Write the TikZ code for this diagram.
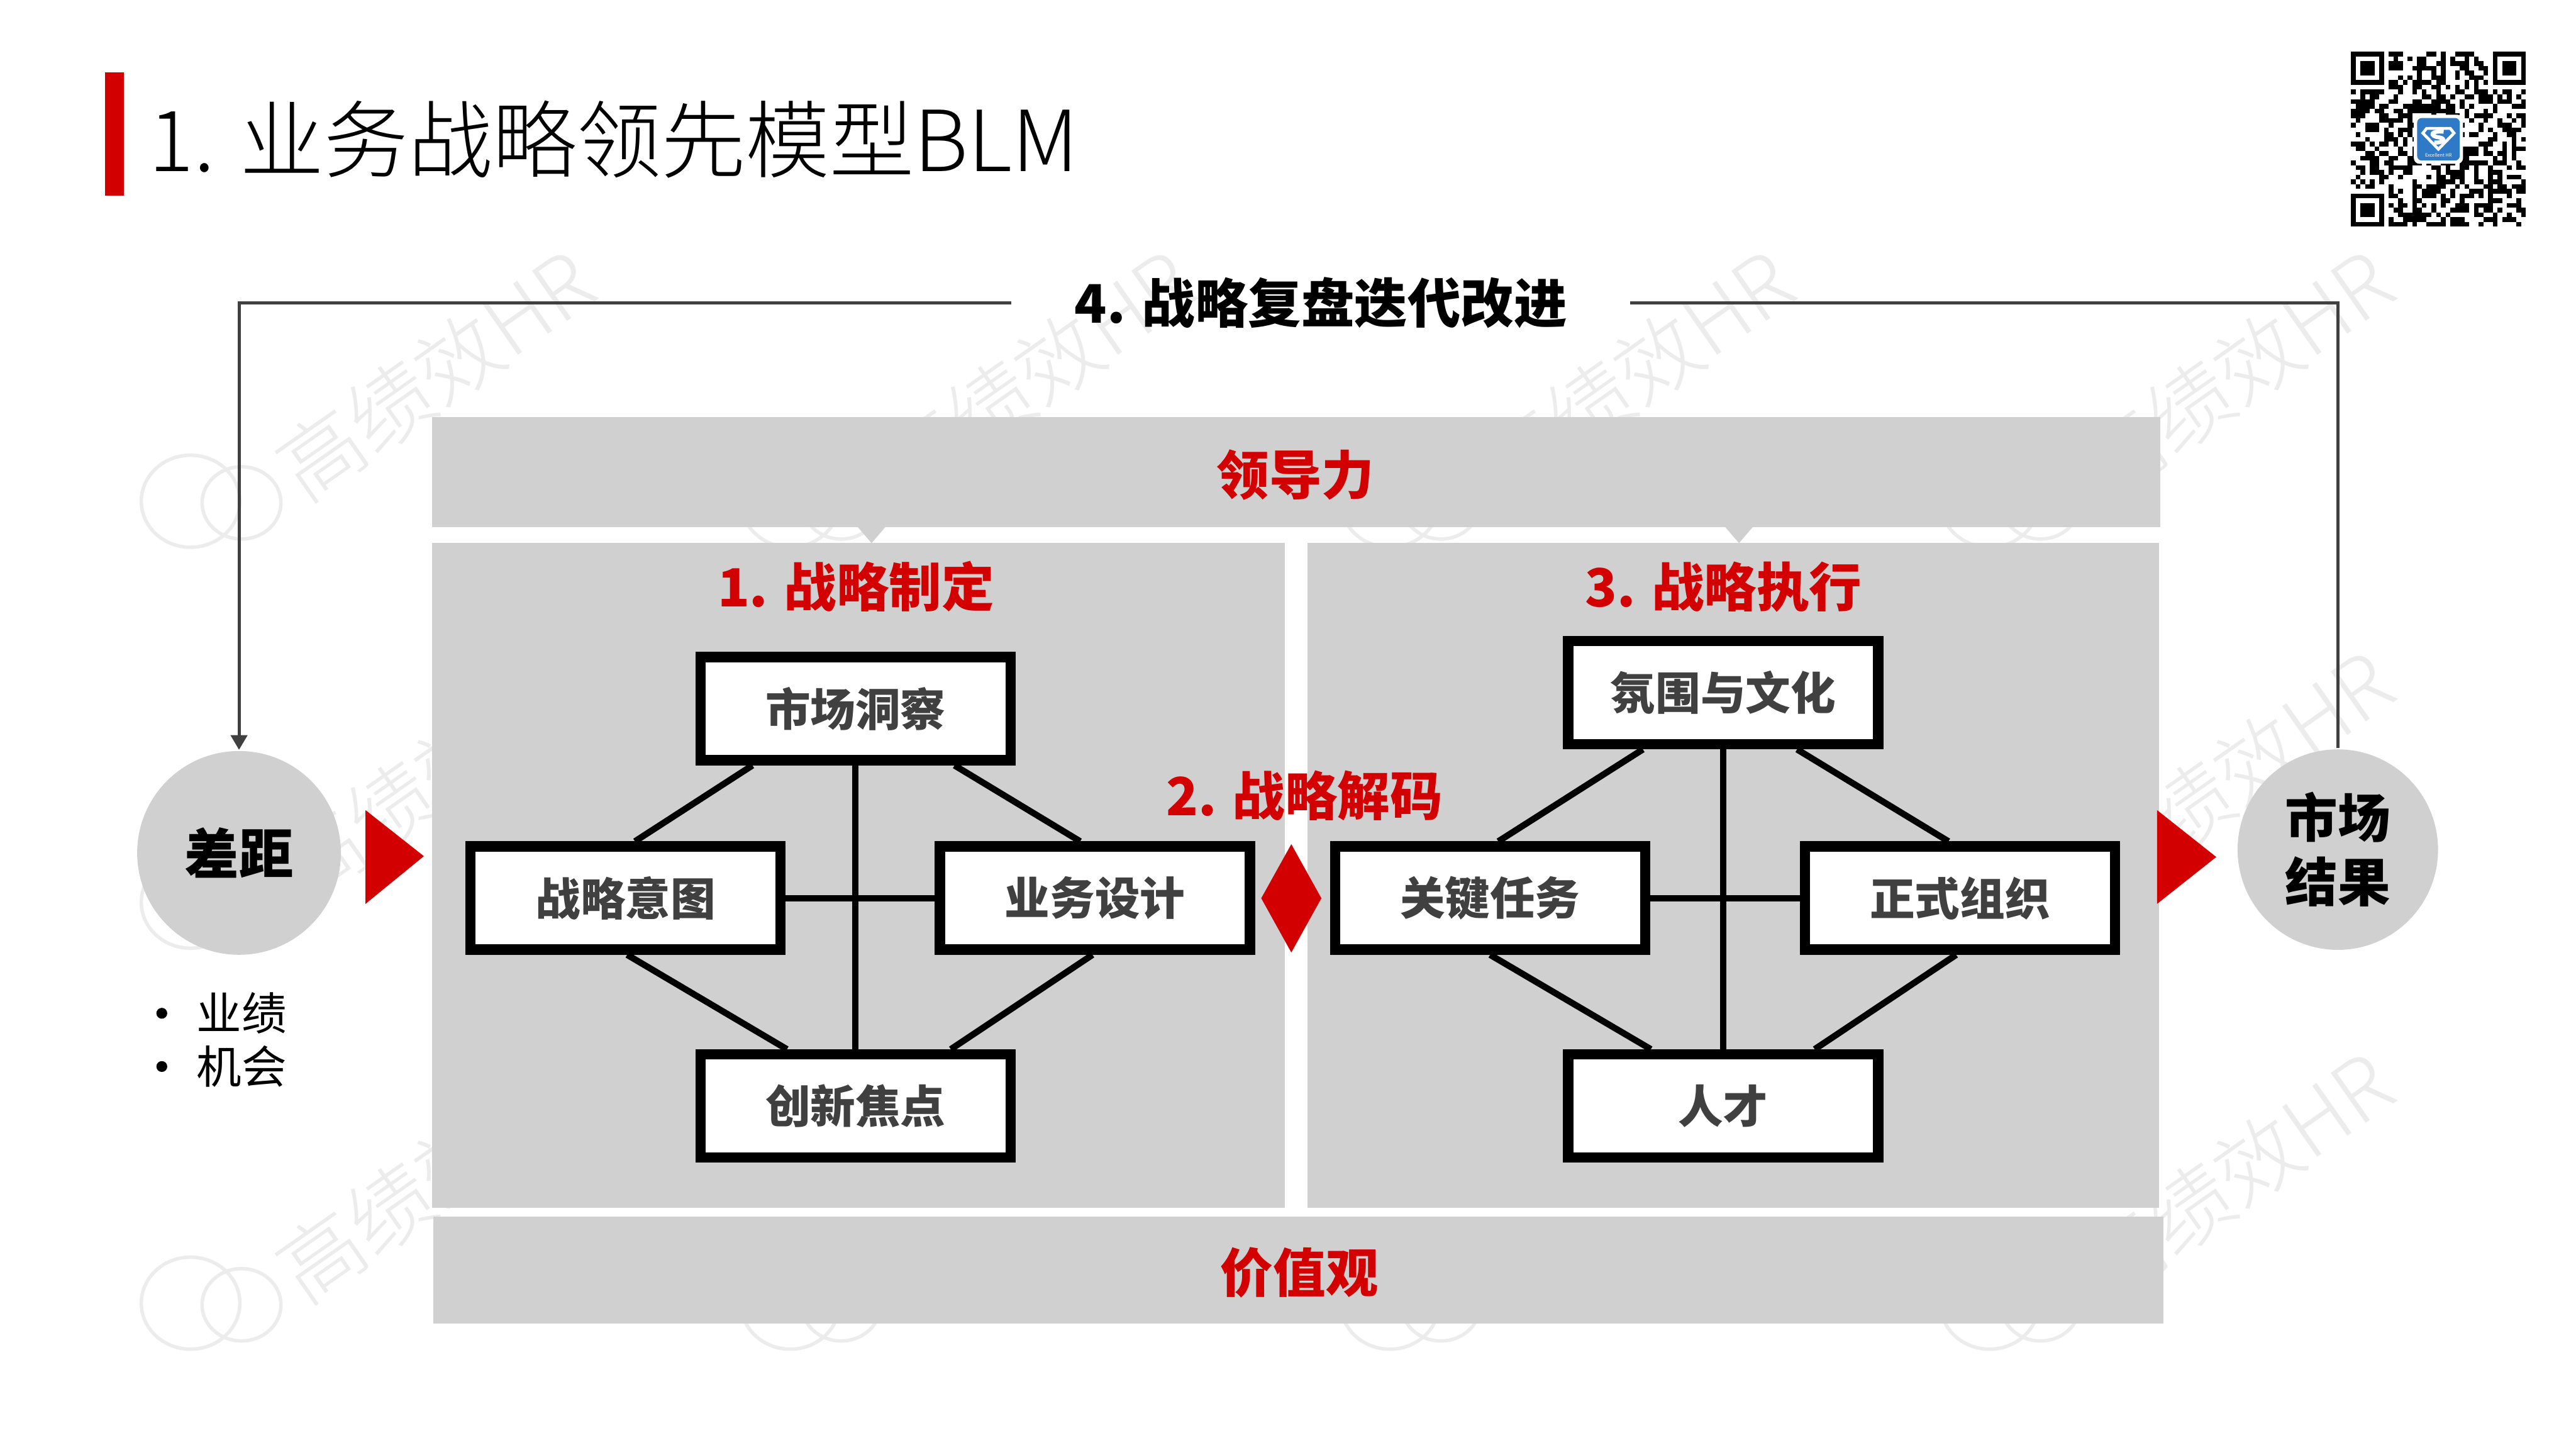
\documentclass[tikz,border=0pt]{standalone}
\usepackage{fontspec}
\setmainfont{Noto Sans CJK SC}
\newfontfamily\titlefont{Noto Sans CJK SC Light}
\usetikzlibrary{arrows.meta,calc}
\definecolor{panelgray}{RGB}{208,208,208}
\definecolor{blmred}{RGB}{210,0,0}
\definecolor{boxtext}{RGB}{64,64,64}
\definecolor{loopgray}{RGB}{64,64,64}
\definecolor{wmgray}{RGB}{236,236,236}
\definecolor{qrblue}{RGB}{46,122,198}
\begin{document}
\begin{tikzpicture}[x=1cm,y=1cm,
  panel/.style={fill=panelgray,draw=none},
  stratbox/.style={draw=black,line width=1.8pt,fill=white,minimum width=1.887cm,minimum height=0.627cm,inner sep=0pt,font=\fontsize{7.8}{9}\selectfont\bfseries,text=boxtext},
  link/.style={draw=black,line width=1.1pt},
  redlabel/.style={font=\fontsize{9.1}{11}\selectfont\bfseries,text=blmred,inner sep=0pt},
  loopline/.style={draw=loopgray,line width=0.55pt},
  wm/.style={font=\titlefont\fontsize{14.5}{16}\selectfont,text=wmgray,inner sep=0pt},
  wmline/.style={draw=wmgray,line width=0.6pt},
  bubble/.style={circle,fill=panelgray,inner sep=0pt,align=center}
]
\useasboundingbox (0,0) rectangle (15.68,-8.82);
\fill[white] (0,0) rectangle (15.68,-8.82);

% watermark: icons everywhere, texts only where they show
\foreach \cx in {2.65,6.30,9.95,13.60}{
  \foreach \cy in {-2.28,-4.72,-7.16}{
    \draw[wmline] (\cx-1.49,\cy-0.77) ellipse [x radius=0.30,y radius=0.28];
    \draw[wmline] (\cx-1.18,\cy-0.78) ellipse [x radius=0.24,y radius=0.22];
  }
}
\foreach \cx/\cy [count=\k] in {2.65/-2.28,6.30/-2.28,9.95/-2.28,13.60/-2.28,2.65/-4.72,13.60/-4.72,2.65/-7.16,13.60/-7.16}{
  \node[wm,rotate=35] (wm-\k) at (\cx,\cy) {高绩效HR};
}

% title
\fill[blmred] (0.64,-0.44) rectangle (0.755,-1.19);
\node[anchor=west,font=\titlefont\fontsize{14.6}{17}\selectfont,inner sep=0pt] (title) at (0.90,-0.85) {1. 业务战略领先模型BLM};

% QR code
\begin{scope}[shift={(14.31,-0.315)},x=0.02878cm,y=-0.02878cm]
  \pgfmathsetseed{4242}
  \foreach \i in {0,...,36}{
    \foreach \j in {0,...,36}{
      \pgfmathrandominteger{\qrbit}{0}{1}
      \ifnum\qrbit=1 \fill[black] (\i,\j) rectangle ++(1,1);\fi
    }
  }
  \fill[white] (0,0) rectangle (8,8);
  \fill[white] (29,0) rectangle (37,8);
  \fill[white] (0,29) rectangle (8,37);
  \foreach \fx/\fy in {0/0,30/0,0/30}{
    \fill[black] (\fx,\fy) rectangle ++(7,7);
    \fill[white] (\fx+1,\fy+1) rectangle ++(5,5);
    \fill[black] (\fx+2,\fy+2) rectangle ++(3,3);
  }
  \fill[white,rounded corners=1pt] (13.3,13.3) rectangle (23.7,23.7);
  \fill[qrblue,rounded corners=0.8pt] (14,14) rectangle (23,23);
  \draw[white,line width=0.5pt] (16,16.2) -- (21,16.2) -- (21.8,17.2) -- (18.5,20.6) -- (15.2,17.2) -- cycle;
  \draw[white,line width=0.7pt] (19.6,16.9) .. controls (17,16.6) and (16.4,17.8) .. (18.6,18.1) .. controls (20.2,18.3) and (19.6,19.3) .. (17.6,19.2);
  \node[text=white,font=\fontsize{0.8}{1}\selectfont,inner sep=0pt] (qrlogo) at (18.5,21.9) {Excellent HR};
\end{scope}

% panels
\fill[panel] (2.63,-2.537) rectangle (13.15,-3.208);
\fill[panel] (5.215,-3.20) -- (5.395,-3.20) -- (5.305,-3.305) -- cycle;
\fill[panel] (10.495,-3.20) -- (10.675,-3.20) -- (10.585,-3.305) -- cycle;
\fill[panel] (2.63,-3.305) rectangle (7.82,-7.348);
\fill[panel] (7.96,-3.305) rectangle (13.14,-7.348);
\fill[panel] (2.636,-7.404) rectangle (13.17,-8.053);

\node[redlabel] (lead) at (7.885,-2.89) {领导力};
\node[redlabel] (values) at (7.91,-7.745) {价值观};
\node[redlabel] (s1) at (5.21,-3.57) {1. 战略制定};
\node[redlabel] (s3) at (10.49,-3.57) {3. 战略执行};
\node[redlabel] (s2) at (7.94,-4.84) {2. 战略解码};

% circles
\node[bubble,minimum size=1.24cm,font=\fontsize{9.4}{11}\selectfont\bfseries] (gap) at (1.455,-5.19) {差距};
\node[bubble,minimum size=1.22cm,font=\fontsize{9.1}{11.1}\selectfont\bfseries] (result) at (14.23,-5.17) {市场\\结果};

% red arrows and diamond
\fill[blmred] (2.225,-4.93) -- (2.58,-5.21) -- (2.225,-5.50) -- cycle;
\fill[blmred] (13.13,-4.93) -- (13.49,-5.215) -- (13.13,-5.50) -- cycle;
\fill[blmred] (7.86,-5.137) -- (8.043,-5.466) -- (7.86,-5.796) -- (7.677,-5.466) -- cycle;

% bullets
\fill (0.985,-6.166) circle (0.033);
\fill (0.985,-6.49) circle (0.033);
\node[anchor=west,font=\fontsize{7.8}{9.2}\selectfont,inner sep=0pt] (b1) at (1.19,-6.166) {业绩};
\node[anchor=west,font=\fontsize{7.8}{9.2}\selectfont,inner sep=0pt] (b2) at (1.19,-6.49) {机会};

% boxes
\node[stratbox] (mi) at (5.2075,-4.3125) {市场洞察};
\node[stratbox] (si) at (3.8075,-5.465) {战略意图};
\node[stratbox] (bd) at (6.665,-5.465) {业务设计};
\node[stratbox] (cf) at (5.2075,-6.73) {创新焦点};
\node[stratbox] (ac) at (10.4885,-4.215) {氛围与文化};
\node[stratbox] (kt) at (9.07,-5.465) {关键任务};
\node[stratbox] (fo) at (11.93,-5.465) {正式组织};
\node[stratbox] (tal) at (10.4885,-6.73) {人才};

% links left
\draw[link] ([xshift=-0.6275cm]mi.south) -- ([xshift=0.0575cm]si.north);
\draw[link] ([xshift=0.6025cm]mi.south) -- ([xshift=-0.09cm]bd.north);
\draw[link] (mi.south) -- (cf.north);
\draw[link] (si.east) -- (bd.west);
\draw[link] ([xshift=0.01cm]si.south) -- ([xshift=-0.4175cm]cf.north);
\draw[link] ([xshift=-0.015cm]bd.south) -- ([xshift=0.58cm]cf.north);
% links right
\draw[link] ([xshift=-0.4885cm]ac.south) -- ([xshift=0.05cm]kt.north);
\draw[link] ([xshift=0.45cm]ac.south) -- ([xshift=-0.07cm]fo.north);
\draw[link] (ac.south) -- (tal.north);
\draw[link] (kt.east) -- (fo.west);
\draw[link] (kt.south) -- ([xshift=-0.44cm]tal.north);
\draw[link] ([xshift=-0.023cm]fo.south) -- ([xshift=0.5575cm]tal.north);

% review loop
\node[font=\fontsize{9.2}{11}\selectfont\bfseries,inner xsep=0.385cm,inner ysep=0pt,outer sep=0pt] (review) at (8.04,-1.844) {4. 战略复盘迭代改进};
\draw[loopline] (result.north) |- (review.east);
\draw[loopline,-{Triangle[length=0.09cm,width=0.1cm]}] (review.west) -| (gap.north);
\end{tikzpicture}
\end{document}
